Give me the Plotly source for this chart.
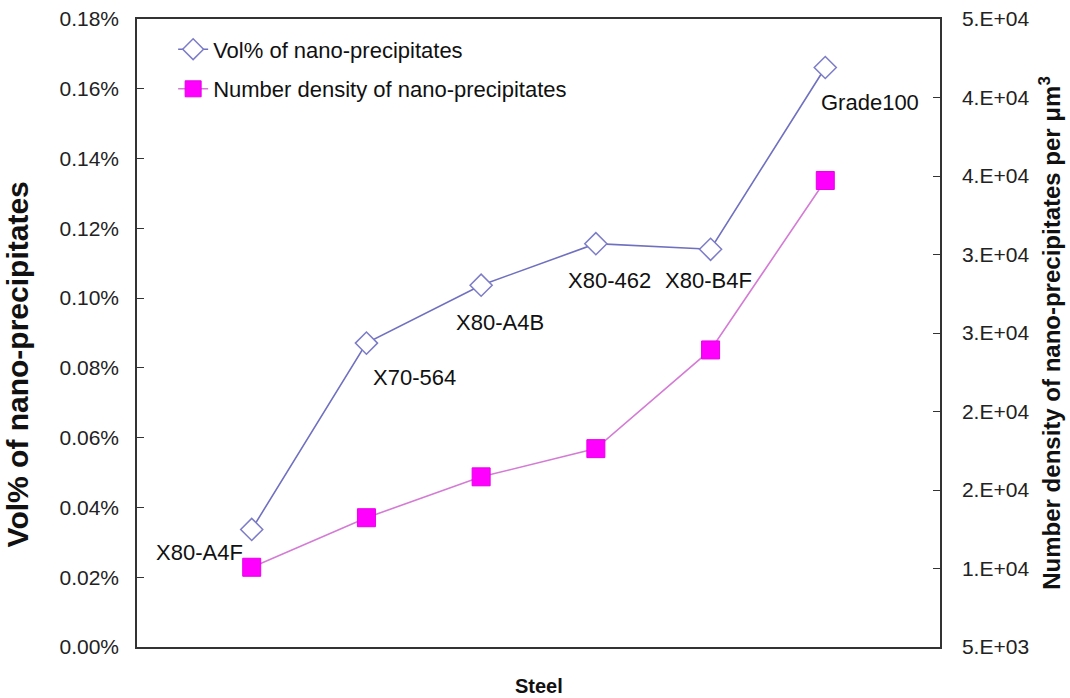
import plotly.graph_objects as go

steels = ["X80-A4F", "X70-564", "X80-A4B", "X80-462", "X80-B4F", "Grade100"]
vol_pct = [0.0337, 0.0871, 0.1037, 0.1156, 0.1140, 0.1661]
density = [10714, 14264, 17193, 19214, 26286, 38429]

left_ticks = [0.00, 0.02, 0.04, 0.06, 0.08, 0.10, 0.12, 0.14, 0.16, 0.18]
left_ticktext = ["0.00%", "0.02%", "0.04%", "0.06%", "0.08%", "0.10%", "0.12%", "0.14%", "0.16%", "0.18%"]
right_ticks = [5000, 10625, 16250, 21875, 27500, 33125, 38750, 44375, 50000]
right_ticktext = ["5.E+03", "1.E+04", "2.E+04", "2.E+04", "3.E+04", "3.E+04", "4.E+04", "4.E+04", "5.E+04"]

# label offsets (pixels) relative to each diamond marker
label_dx = [-52, 48, 19, 14, -2, 45]
label_dy = [-23, -34, -37, -37, -31, -35]

idx = list(range(len(steels)))
FONT = "Liberation Sans, Arial, sans-serif"

fig = go.Figure()
fig.add_trace(go.Scatter(
    x=idx, y=vol_pct, mode="lines+markers", name="Vol% of nano-precipitates",
    line=dict(color="#7070C0", width=1.6),
    marker=dict(symbol="diamond", size=17, color="white", line=dict(color="#7C7CC8", width=1.5)),
    legendgroup="a", yaxis="y",
))
fig.add_trace(go.Scatter(
    x=idx, y=density, mode="lines+markers", name="Number density of nano-precipitates",
    line=dict(color="#D47CD4", width=1.6),
    marker=dict(symbol="square", size=18, color="#FF00FF", line=dict(color="#E800E8", width=1)),
    legendgroup="b", yaxis="y2",
))

for i, s in enumerate(steels):
    fig.add_annotation(x=idx[i], y=vol_pct[i], xref="x", yref="y", text=s, showarrow=False,
                       xshift=label_dx[i], yshift=label_dy[i],
                       font=dict(family=FONT, size=22, color="#111"))

# left axis title placed as rotated annotation (sits lower than the axis centre in the reference)
fig.add_annotation(x=0, xref="paper", xshift=-120, y=0.45, yref="paper",
                   text="<b>Vol% of nano-precipitates</b>", textangle=-90, showarrow=False,
                   xanchor="center", yanchor="middle",
                   font=dict(family=FONT, size=30, color="#111"))
# x axis title
fig.add_annotation(x=0.5, xref="paper", y=0, yref="paper", yshift=-39,
                   text="<b>Steel</b>", showarrow=False, xanchor="center", yanchor="middle",
                   font=dict(family=FONT, size=20, color="#111"))

fig.update_layout(
    width=1070, height=698,
    margin=dict(l=137, r=130, t=19, b=51, autoexpand=False),
    paper_bgcolor="white", plot_bgcolor="white",
    font=dict(family=FONT, color="#111"),
    showlegend=True,
    legend=dict(x=0.045, y=0.985, xanchor="left", yanchor="top",
                font=dict(family=FONT, size=22, color="#111"),
                bgcolor="rgba(0,0,0,0)", traceorder="grouped", tracegroupgap=8),
    xaxis=dict(range=[-1, 6], showticklabels=False, ticks="", showgrid=False, zeroline=False,
               showline=True, linecolor="#333", linewidth=1.5, mirror=True, automargin=False),
    yaxis=dict(range=[0, 0.18], tickvals=left_ticks, ticktext=left_ticktext,
               ticks="inside", ticklen=7, tickcolor="#333", showgrid=False, zeroline=False,
               showline=True, linecolor="#333", linewidth=1.5, automargin=False,
               tickfont=dict(family=FONT, size=21, color="#222"), ticklabelstandoff=12),
    yaxis2=dict(range=[5000, 50000], tickvals=right_ticks, ticktext=right_ticktext, overlaying="y", side="right",
                ticks="inside", ticklen=7, tickcolor="#333", showgrid=False, zeroline=False,
                showline=True, linecolor="#333", linewidth=1.5, automargin=False,
                tickfont=dict(family=FONT, size=21, color="#222"), ticklabelstandoff=16,
                title=dict(text="<b>Number density of nano-precipitates per μm<sup>3</sup></b>",
                           font=dict(family=FONT, size=24, color="#111"), standoff=15)),
)

fig.write_html("out.html")
